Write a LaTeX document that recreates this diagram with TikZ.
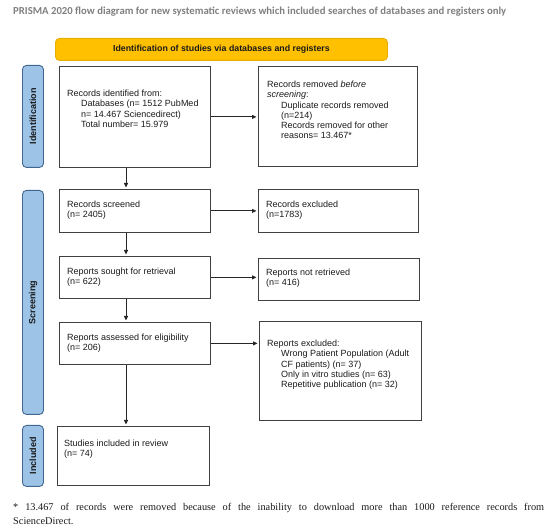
\documentclass[tikz,border=0pt]{standalone}
\usepackage{fontspec}
\setmainfont{Liberation Sans}
\newfontfamily\titlefont{Carlito}
\newfontfamily\notefont{Liberation Serif}
\usetikzlibrary{arrows.meta}
\definecolor{boxline}{HTML}{404040}
\definecolor{txtcol}{HTML}{1A1A1A}
\definecolor{titlegray}{HTML}{7F7F7F}
\definecolor{yelfill}{HTML}{FFC000}
\definecolor{yelline}{HTML}{E8AE00}
\definecolor{bluefill}{HTML}{9DC3E6}
\definecolor{blueline}{HTML}{41668F}
\tikzset{
  boxst/.style={draw=boxline, line width=0.8pt, rectangle, inner sep=0pt, anchor=north west},
  txt/.style={inner sep=0pt, anchor=north west, align=left, text=txtcol, font=\fontsize{9}{10.3}\selectfont},
  sidebar/.style={draw=blueline, fill=bluefill, line width=0.9pt, rounded corners=4pt, rectangle, inner sep=0pt, anchor=north west},
  sidetxt/.style={rotate=90, font=\bfseries\fontsize{9}{10}\selectfont, text=txtcol, inner sep=0pt},
  arr/.style={-{Triangle[length=4.5pt,width=4pt]}, line width=0.8pt, draw=black!85, shorten >=1.5pt},
}
\newcommand{\ind}{\hspace*{14pt}}
\begin{document}
\begin{tikzpicture}[x=1pt,y=-1pt]
\useasboundingbox (0,0) rectangle (550,529);
% title
\node[inner sep=0pt, anchor=west, text=titlegray, font=\titlefont\bfseries\fontsize{10.7}{12}\selectfont] (title) at (13,12) {PRISMA 2020 flow diagram for new systematic reviews which included searches of databases and registers only};
% header bar
\node[draw=yelline, fill=yelfill, line width=0.9pt, rounded corners=4pt, anchor=north west, minimum width=332pt, minimum height=22pt, inner sep=0pt, font=\bfseries\fontsize{8.8}{10}\selectfont, text=txtcol] (head) at (55,38) {Identification of studies via databases and registers};
% side bars
\node[sidebar, minimum width=21pt, minimum height=102pt] (sb1) at (22,65) {};
\node[sidetxt] (sl1) at (sb1.center) {Identification};
\node[sidebar, minimum width=21pt, minimum height=224pt] (sb2) at (22,190) {};
\node[sidetxt] (sl2) at (sb2.center) {Screening};
\node[sidebar, minimum width=21pt, minimum height=61pt] (sb3) at (22,425) {};
\node[sidetxt] (sl3) at (sb3.center) {Included};
% boxes
\node[boxst, minimum width=151pt, minimum height=101pt] (b1) at (59,66) {};
\node[boxst, minimum width=159pt, minimum height=100pt] (rem) at (258,66) {};
\node[boxst, minimum width=151pt, minimum height=43pt] (scr) at (59,189) {};
\node[boxst, minimum width=160pt, minimum height=43pt] (exc) at (258,189) {};
\node[boxst, minimum width=151pt, minimum height=42pt] (sou) at (59,256) {};
\node[boxst, minimum width=161pt, minimum height=42pt] (nret) at (258,258) {};
\node[boxst, minimum width=151pt, minimum height=42pt] (ass) at (59,322) {};
\node[boxst, minimum width=162pt, minimum height=99pt] (rex) at (259,321) {};
\node[boxst, minimum width=152pt, minimum height=59pt] (inc) at (57,426) {};
% texts
\node[txt] (t1) at (67,89.7) {Records identified from:\\ \ind Databases (n= 1512 PubMed\\ \ind n= 14.467 Sciencedirect)\\ \ind Total number= 15.979};
\node[txt] (t2) at (267,80.7) {Records removed \textit{before}\\ \textit{screening}:\\ \ind Duplicate records removed\\ \ind (n=214)\\ \ind Records removed for other\\ \ind reasons= 13.467*};
\node[txt] (t3) at (67,200.7) {Records screened\\ (n= 2405)};
\node[txt] (t4) at (266,200.7) {Records excluded\\ (n=1783)};
\node[txt] (t5) at (67,267.7) {Reports sought for retrieval\\ (n= 622)};
\node[txt] (t6) at (266,268.7) {Reports not retrieved\\ (n= 416)};
\node[txt] (t7) at (67,333.7) {Reports assessed for eligibility\\ (n= 206)};
\node[txt] (t8) at (267,339.7) {Reports excluded:\\ \ind Wrong Patient Population (Adult\\ \ind CF patients) (n= 37)\\ \ind Only in vitro studies (n= 63)\\ \ind Repetitive publication (n= 32)};
\node[txt] (t9) at (64,439.7) {Studies included in review\\ (n= 74)};
% connectors
\draw[arr] (b1.east) -- (rem.west |- b1.east);
\draw[arr] (scr.east) -- (exc.west |- scr.east);
\draw[arr] (sou.east) -- (nret.west |- sou.east);
\draw[arr] (ass.east) -- (rex.west |- ass.east);
\draw[arr] ([xshift=67pt]b1.south west) -- ([xshift=67pt]b1.south west |- scr.north);
\draw[arr] ([xshift=67pt]scr.south west) -- ([xshift=67pt]scr.south west |- sou.north);
\draw[arr] ([xshift=67pt]sou.south west) -- ([xshift=67pt]sou.south west |- ass.north);
\draw[arr] ([xshift=67pt]ass.south west) -- ([xshift=67pt]ass.south west |- inc.north);
% footnote
\node[inner sep=0pt, anchor=north west, text width=531pt, align=justify, text=txtcol, font=\notefont\fontsize{10.3}{14.5}\selectfont] (note) at (13,503) {* 13.467 of records were removed because of the inability to download more than 1000 reference records from\linebreak ScienceDirect.};
\end{tikzpicture}
\end{document}
